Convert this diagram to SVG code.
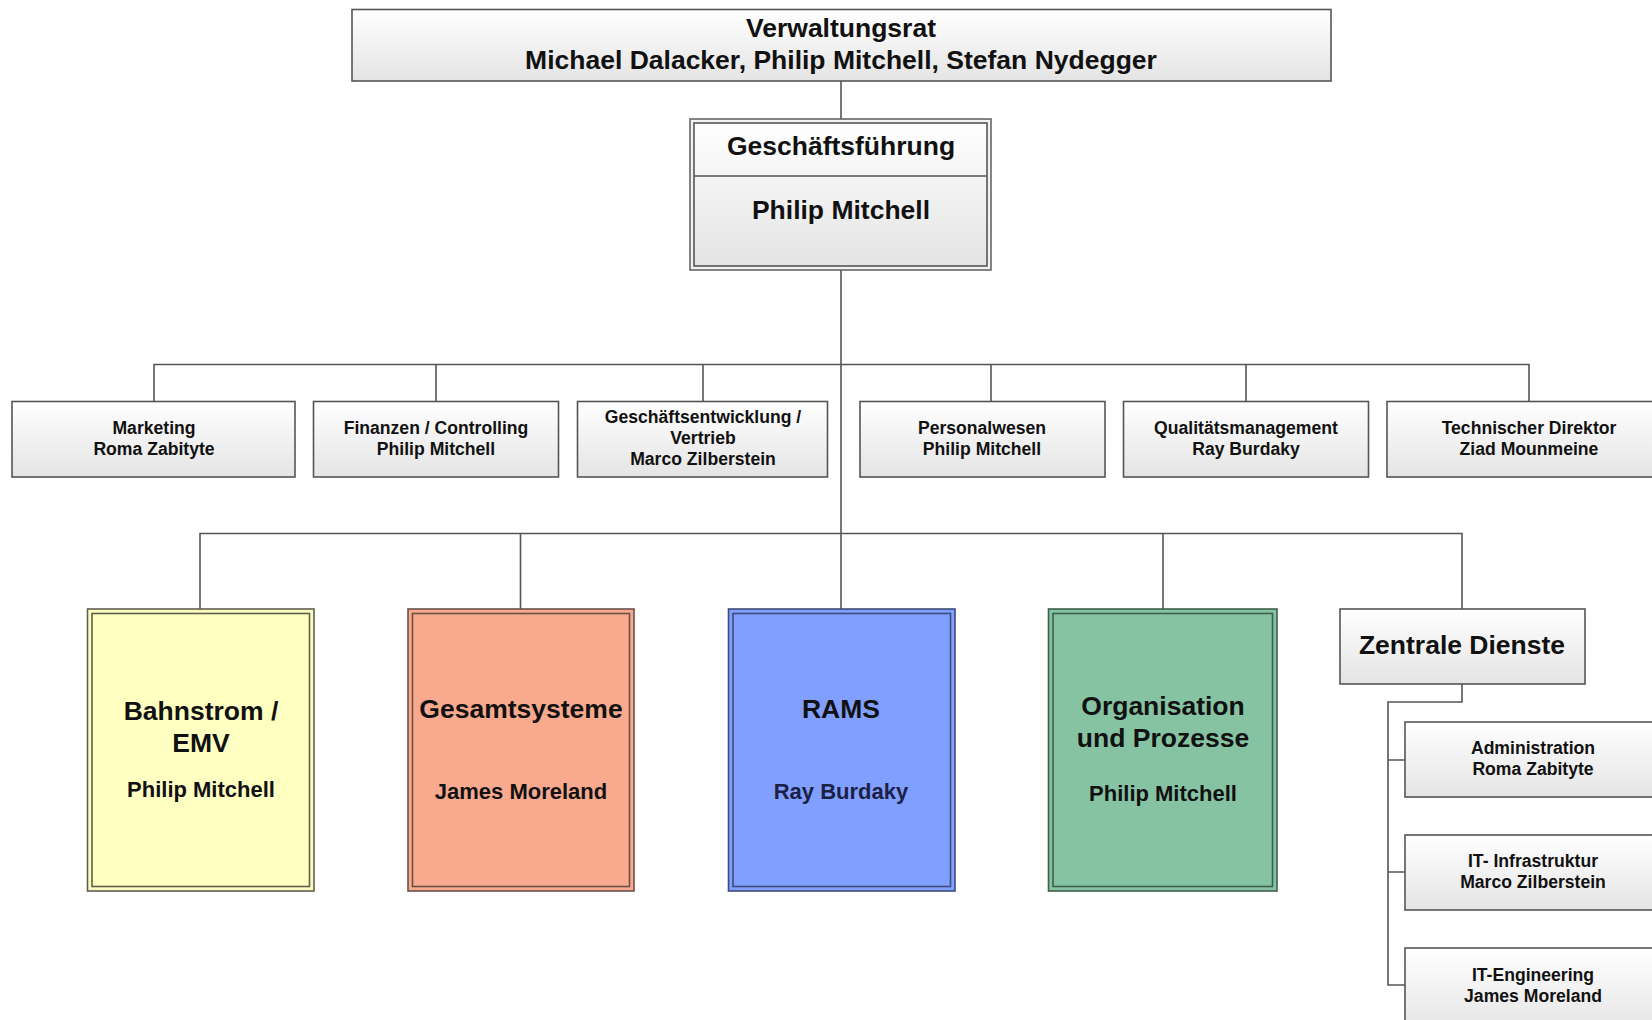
<svg xmlns="http://www.w3.org/2000/svg" width="1652" height="1020" viewBox="0 0 1652 1020">
<defs>
<linearGradient id="g" x1="0" y1="0" x2="0" y2="1">
<stop offset="0" stop-color="#ffffff"/>
<stop offset="1" stop-color="#e4e4e4"/>
</linearGradient>
<style>
text{font-family:"Liberation Sans",Arial,sans-serif;font-weight:bold;fill:#111;text-anchor:middle}
.box{fill:url(#g);stroke:#555;stroke-width:1.6}
.t26{font-size:26.5px}
.t22{font-size:22px}
.t17{font-size:17.6px}
.conn{fill:none;stroke:#555;stroke-width:1.6}
</style>
</defs>
<rect width="1652" height="1020" fill="#ffffff"/>
<g id="connectors" class="conn">
<path d="M841 81V119"/>
<path d="M841 270V609"/>
<path d="M154 401V364.5H1529V401"/>
<path d="M436 364.5V401M703 364.5V401M991 364.5V401M1246 364.5V401"/>
<path d="M200 609V533.5H1462V609"/>
<path d="M520.5 533.5V609M1163 533.5V609"/>
<path d="M1462 684V702H1388V985H1405"/>
<path d="M1388 760H1405M1388 872H1405"/>
</g>
<g id="verwaltungsrat">
<rect class="box" x="352" y="9.5" width="979" height="71.5"/>
<text class="t26" x="841" y="37">Verwaltungsrat</text>
<text class="t26" x="841" y="69">Michael Dalacker, Philip Mitchell, Stefan Nydegger</text>
</g>
<g id="geschaeftsfuehrung">
<rect x="690" y="119" width="301" height="151" fill="#f2f2f2" stroke="#666" stroke-width="1.6"/>
<rect class="box" x="694" y="123" width="293" height="143"/>
<line x1="694" y1="176" x2="987" y2="176" stroke="#555" stroke-width="1.6"/>
<text class="t26" x="841" y="155">Geschäftsführung</text>
<text class="t26" x="841" y="219">Philip Mitchell</text>
</g>
<g id="marketing">
<rect class="box" x="12" y="401.5" width="283" height="75.5"/>
<text class="t17" x="154" y="434">Marketing</text>
<text class="t17" x="154" y="455">Roma Zabityte</text>
</g>
<g id="finanzen">
<rect class="box" x="313.5" y="401.5" width="245" height="75.5"/>
<text class="t17" x="436" y="434">Finanzen / Controlling</text>
<text class="t17" x="436" y="455">Philip Mitchell</text>
</g>
<g id="geschaeftsentwicklung">
<rect class="box" x="577.5" y="401.5" width="250" height="75.5"/>
<text class="t17" x="703" y="423">Geschäftsentwicklung /</text>
<text class="t17" x="703" y="444">Vertrieb</text>
<text class="t17" x="703" y="465">Marco Zilberstein</text>
</g>
<g id="personalwesen">
<rect class="box" x="860" y="401.5" width="245" height="75.5"/>
<text class="t17" x="982" y="434">Personalwesen</text>
<text class="t17" x="982" y="455">Philip Mitchell</text>
</g>
<g id="qualitaet">
<rect class="box" x="1123.5" y="401.5" width="245" height="75.5"/>
<text class="t17" x="1246" y="434">Qualitätsmanagement</text>
<text class="t17" x="1246" y="455">Ray Burdaky</text>
</g>
<g id="technischer-direktor">
<rect class="box" x="1387" y="401.5" width="284" height="75.5"/>
<text class="t17" x="1529" y="434">Technischer Direktor</text>
<text class="t17" x="1529" y="455">Ziad Mounmeine</text>
</g>
<g id="bahnstrom">
<rect x="87.5" y="609" width="226.5" height="282" fill="#fdfdc2" stroke="#5f5f52" stroke-width="1.6"/>
<rect x="92" y="613.5" width="217.5" height="273" fill="#ffffc2" stroke="#5f5f52" stroke-width="1.6"/>
<text class="t26" x="201" y="720">Bahnstrom /</text>
<text class="t26" x="201" y="752">EMV</text>
<text class="t22" x="201" y="797">Philip Mitchell</text>
</g>
<g id="gesamtsysteme">
<rect x="408" y="609" width="226" height="282" fill="#f8a98f" stroke="#6b5048" stroke-width="1.6"/>
<rect x="412.5" y="613.5" width="217" height="273" fill="#f9a98e" stroke="#6b5048" stroke-width="1.6"/>
<text class="t26" x="521" y="718">Gesamtsysteme</text>
<text class="t22" x="521" y="799">James Moreland</text>
</g>
<g id="rams">
<rect x="728.5" y="609" width="226.5" height="282" fill="#819fff" stroke="#3d4c7a" stroke-width="1.6"/>
<rect x="733" y="613.5" width="217.5" height="273" fill="#819fff" stroke="#3d4c7a" stroke-width="1.6"/>
<text class="t26" x="841" y="718">RAMS</text>
<text class="t22" x="841" y="799" style="fill:#1a2145">Ray Burdaky</text>
</g>
<g id="organisation">
<rect x="1048.5" y="609" width="228.5" height="282" fill="#86c3a3" stroke="#3f5f4e" stroke-width="1.6"/>
<rect x="1053" y="613.5" width="219.5" height="273" fill="#86c3a3" stroke="#3f5f4e" stroke-width="1.6"/>
<text class="t26" x="1163" y="715">Organisation</text>
<text class="t26" x="1163" y="747">und Prozesse</text>
<text class="t22" x="1163" y="801">Philip Mitchell</text>
</g>
<g id="zentrale-dienste">
<rect class="box" x="1340" y="609" width="245" height="75"/>
<text class="t26" x="1462" y="654">Zentrale Dienste</text>
</g>
<g id="administration">
<rect class="box" x="1405" y="722" width="260" height="75"/>
<text class="t17" x="1533" y="754">Administration</text>
<text class="t17" x="1533" y="775">Roma Zabityte</text>
</g>
<g id="it-infrastruktur">
<rect class="box" x="1405" y="835" width="260" height="75"/>
<text class="t17" x="1533" y="867">IT- Infrastruktur</text>
<text class="t17" x="1533" y="888">Marco Zilberstein</text>
</g>
<g id="it-engineering">
<rect class="box" x="1405" y="948" width="260" height="85"/>
<text class="t17" x="1533" y="981">IT-Engineering</text>
<text class="t17" x="1533" y="1002">James Moreland</text>
</g>
</svg>
